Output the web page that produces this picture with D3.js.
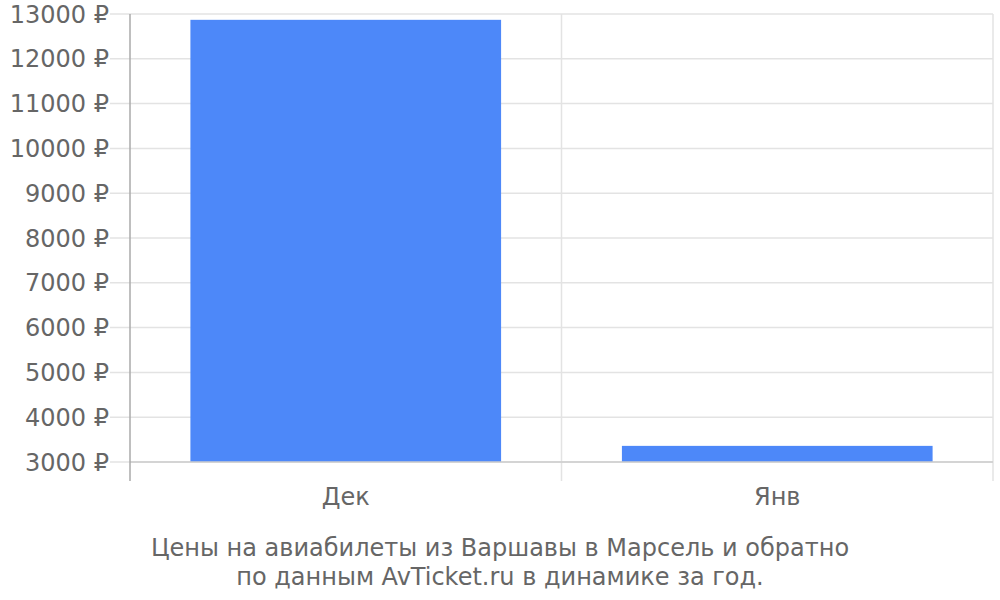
<!DOCTYPE html>
<html>
<head>
<meta charset="utf-8">
<script src="https://cdn.jsdelivr.net/npm/d3@7"></script>
<style>
  body { margin: 0; background: #fff; }
  text { font-family: "DejaVu Sans", sans-serif; fill: #666; }
</style>
</head>
<body>
<div id="chart"></div>
<script>
// Data
const months = ["Дек", "Янв"];
const prices = [12870, 3360];
const yTicks = [3000, 4000, 5000, 6000, 7000, 8000, 9000, 10000, 11000, 12000, 13000];
const captionLines = [
  "Цены на авиабилеты из Варшавы в Марсель и обратно",
  "по данным AvTicket.ru в динамике за год."
];

const width = 1000;
const height = 600;
const plot = { left: 130, right: 993, top: 14, bottom: 462, axisEnd: 481 };

const svg = d3.select("#chart")
  .append("svg")
  .attr("width", width)
  .attr("height", height);

const x = d3.scaleBand()
  .domain(months)
  .range([plot.left, plot.right])
  .paddingInner(0.28)
  .paddingOuter(0.14);

const y = d3.scaleLinear()
  .domain([3000, 13000])
  .range([plot.bottom, plot.top]);

// Horizontal grid lines + tick labels
svg.append("g")
  .selectAll("line")
  .data(yTicks)
  .join("line")
  .attr("x1", plot.left - 20)
  .attr("x2", plot.right)
  .attr("y1", d => y(d))
  .attr("y2", d => y(d))
  .attr("stroke", "#e3e3e3")
  .attr("stroke-width", 1.5);

svg.append("g")
  .selectAll("text")
  .data(yTicks)
  .join("text")
  .attr("x", plot.left - 21)
  .attr("y", d => y(d))
  .attr("dy", "0.36em")
  .attr("text-anchor", "end")
  .attr("font-size", "24px")
  .text(d => d + " ₽");

// Vertical grid lines at band boundaries
const bounds = months.map((m, i) => plot.left + i * x.step()).concat([plot.right]);
svg.append("g")
  .selectAll("line")
  .data(bounds.slice(1))
  .join("line")
  .attr("x1", d => d)
  .attr("x2", d => d)
  .attr("y1", plot.top)
  .attr("y2", plot.axisEnd)
  .attr("stroke", "#e3e3e3")
  .attr("stroke-width", 1.5);

// Bars
svg.append("g")
  .selectAll("rect")
  .data(months)
  .join("rect")
  .attr("x", d => x(d))
  .attr("width", x.bandwidth())
  .attr("y", (d, i) => y(prices[i]))
  .attr("height", (d, i) => y(3000) - y(prices[i]))
  .attr("fill", "#4d88f9");

// Bottom axis line
svg.append("line")
  .attr("x1", plot.left)
  .attr("x2", plot.right)
  .attr("y1", plot.bottom)
  .attr("y2", plot.bottom)
  .attr("stroke", "#cccccc")
  .attr("stroke-width", 1.5);

// Left axis line
svg.append("line")
  .attr("x1", plot.left)
  .attr("x2", plot.left)
  .attr("y1", plot.top)
  .attr("y2", plot.axisEnd)
  .attr("stroke", "#aaaaaa")
  .attr("stroke-width", 1.5);

// Category labels
svg.append("g")
  .selectAll("text")
  .data(months)
  .join("text")
  .attr("x", d => x(d) + x.bandwidth() / 2)
  .attr("y", 505)
  .attr("text-anchor", "middle")
  .attr("font-size", "24px")
  .text(d => d);

// Caption
svg.append("g")
  .selectAll("text")
  .data(captionLines)
  .join("text")
  .attr("x", 500)
  .attr("y", (d, i) => 556 + i * 29)
  .attr("text-anchor", "middle")
  .attr("font-size", "24px")
  .text(d => d);
</script>
</body>
</html>
